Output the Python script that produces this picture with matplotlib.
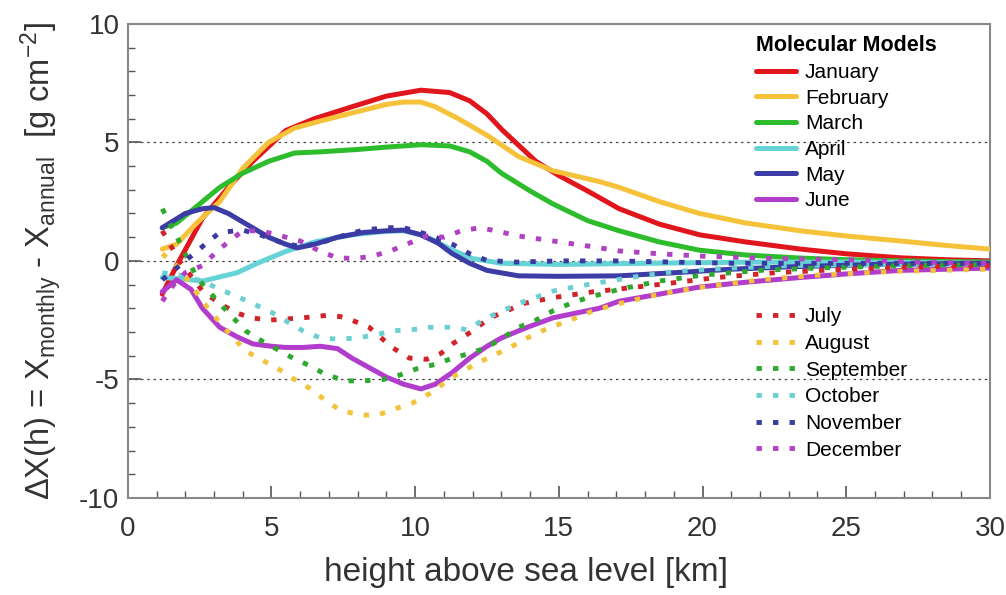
import numpy as np
import matplotlib
matplotlib.use('Agg')
import matplotlib.pyplot as plt
from matplotlib.ticker import MultipleLocator

plt.rcParams['font.family'] = ['Liberation Sans', 'DejaVu Sans']
plt.rcParams['mathtext.fontset'] = 'custom'
plt.rcParams['mathtext.rm'] = 'Liberation Sans'
plt.rcParams['mathtext.it'] = 'Liberation Sans:italic'
plt.rcParams['axes.unicode_minus'] = False

# height [km] / deviation [g cm^-2]
jan_h = [1.2, 1.7, 2.6, 3.5, 4.35, 5.5, 6.5, 7.8, 9.0, 10.2, 11.2, 11.9, 12.5, 13.05, 14.2, 15.0, 16.0, 17.1, 18.5, 19.9, 21.5, 23.4, 25, 26.9, 28.5, 30]
jan_x = [-1.4, -0.2, 1.8, 3.1, 4.2, 5.5, 6.0, 6.5, 6.95, 7.2, 7.1, 6.75, 6.2, 5.5, 4.2, 3.6, 2.95, 2.2, 1.55, 1.1, 0.8, 0.5, 0.3, 0.13, 0.05, 0.0]

feb_h = [1.2, 1.7, 2.4, 3.2, 4.0, 4.9, 5.8, 6.7, 8.0, 9.0, 9.6, 10.2, 10.7, 11.5, 12.5, 13.6, 14.8, 16.4, 17.1, 18.5, 19.9, 21.5, 23.4, 25, 26.9, 28.5, 30]
feb_x = [0.5, 0.7, 1.6, 2.5, 3.9, 5.0, 5.6, 5.9, 6.3, 6.6, 6.7, 6.7, 6.5, 6.0, 5.3, 4.4, 3.8, 3.35, 3.1, 2.5, 2.0, 1.6, 1.27, 1.05, 0.84, 0.65, 0.5]

mar_h = [1.2, 1.7, 2.4, 3.2, 4.0, 4.9, 5.8, 6.7, 8.0, 9.0, 10.2, 11.2, 11.9, 12.5, 13.0, 14.0, 14.8, 16.0, 17.1, 18.5, 19.9, 21.5, 23.4, 25, 27, 30]
mar_x = [1.4, 1.6, 2.3, 3.1, 3.7, 4.2, 4.55, 4.6, 4.7, 4.8, 4.9, 4.85, 4.6, 4.2, 3.7, 2.95, 2.4, 1.7, 1.27, 0.8, 0.45, 0.25, 0.12, 0.05, 0.0, -0.05]

apr_h = [1.2, 1.8, 2.6, 3.8, 4.6, 5.5, 6.5, 7.8, 9.0, 9.6, 10.2, 10.7, 11.3, 12.0, 13.0, 15, 18, 22, 26, 30]
apr_x = [-0.7, -0.75, -0.85, -0.5, -0.05, 0.4, 0.8, 1.1, 1.25, 1.27, 1.1, 0.84, 0.45, 0.1, -0.1, -0.15, -0.1, -0.05, -0.05, -0.1]

may_h = [1.2, 2.0, 2.6, 3.0, 3.5, 4.2, 4.9, 5.5, 5.9, 6.5, 7.3, 8.2, 9.0, 9.6, 10.2, 10.8, 11.3, 11.9, 12.5, 13.6, 15, 17.1, 19, 21, 23, 26, 30]
may_x = [1.4, 2.0, 2.2, 2.25, 2.0, 1.5, 1.0, 0.7, 0.55, 0.7, 1.0, 1.2, 1.27, 1.3, 1.1, 0.75, 0.3, -0.1, -0.4, -0.63, -0.65, -0.63, -0.5, -0.35, -0.25, -0.15, -0.1]

jun_h = [1.2, 1.7, 2.2, 2.6, 3.2, 3.8, 4.35, 5.0, 5.5, 6.1, 6.7, 7.3, 7.8, 8.4, 9.0, 9.6, 10.2, 10.7, 11.3, 11.9, 12.5, 13.0, 13.9, 14.8, 16.4, 17.1, 18.5, 19.9, 21.5, 23.4, 25, 26.9, 28.5, 30]
jun_x = [-1.3, -0.8, -1.2, -2.0, -2.8, -3.2, -3.5, -3.6, -3.65, -3.65, -3.6, -3.7, -4.1, -4.5, -4.9, -5.2, -5.4, -5.2, -4.7, -4.1, -3.6, -3.25, -2.8, -2.4, -2.0, -1.7, -1.4, -1.1, -0.9, -0.7, -0.55, -0.4, -0.35, -0.3]

jul_h = [1.2, 1.8, 2.6, 3.2, 3.8, 4.3, 4.9, 5.5, 6.1, 6.9, 7.4, 7.8, 8.4, 9.2, 9.8, 10.4, 10.9, 11.3, 12.0, 12.6, 13.2, 13.75, 14.8, 16.2, 17.0, 18.8, 20.5, 22.5, 25, 27.5, 30]
jul_x = [1.27, 0.0, -1.27, -1.8, -2.2, -2.4, -2.5, -2.45, -2.4, -2.3, -2.35, -2.5, -2.8, -3.65, -4.1, -4.15, -3.9, -3.5, -2.95, -2.4, -2.1, -1.8, -1.55, -1.3, -1.2, -0.95, -0.7, -0.5, -0.35, -0.25, -0.2]

aug_h = [1.2, 1.8, 2.6, 3.2, 4.1, 4.7, 5.3, 5.8, 6.3, 6.9, 7.4, 8.1, 8.7, 9.4, 9.9, 10.5, 11.3, 12.1, 12.7, 13.3, 13.9, 14.6, 15.4, 16.2, 17.1, 18.5, 20, 22, 24, 26.5, 30]
aug_x = [0.3, -0.3, -1.7, -2.6, -3.8, -4.2, -4.6, -5.0, -5.35, -5.9, -6.3, -6.5, -6.5, -6.2, -6.0, -5.6, -4.9, -4.35, -4.0, -3.65, -3.25, -2.85, -2.5, -2.1, -1.8, -1.4, -1.1, -0.8, -0.6, -0.45, -0.35]

sep_h = [1.2, 1.8, 2.4, 3.2, 4.1, 4.7, 5.75, 6.3, 6.9, 7.6, 8.2, 8.9, 9.5, 10.05, 10.75, 11.3, 11.9, 12.5, 13.05, 13.6, 14.2, 14.8, 15.4, 16.0, 17.1, 18.5, 20, 22, 24, 27, 30]
sep_x = [2.2, 0.8, -0.7, -1.8, -2.95, -3.4, -4.1, -4.4, -4.8, -5.06, -5.06, -5.0, -4.8, -4.55, -4.35, -4.1, -3.9, -3.65, -3.25, -2.8, -2.5, -2.1, -1.8, -1.55, -1.2, -0.85, -0.6, -0.4, -0.3, -0.2, -0.15]

oct_h = [1.2, 1.8, 2.6, 3.2, 3.8, 4.35, 5.05, 5.6, 6.1, 6.7, 7.3, 8.0, 8.7, 9.2, 9.9, 10.5, 11.2, 11.8, 12.5, 13.6, 14.8, 16.0, 17.5, 19, 21, 23, 26, 30]
oct_x = [-0.5, -0.6, -0.85, -1.2, -1.5, -1.8, -2.2, -2.6, -2.95, -3.25, -3.3, -3.25, -3.1, -2.95, -2.9, -2.8, -2.8, -2.9, -2.4, -1.8, -1.27, -1.0, -0.7, -0.45, -0.3, -0.2, -0.15, -0.1]

nov_h = [1.2, 1.8, 2.4, 2.75, 3.2, 4.0, 4.6, 5.3, 6.0, 6.7, 7.3, 8.2, 9.0, 9.6, 10.2, 10.8, 11.3, 11.9, 12.5, 13.5, 15, 17, 19, 21, 24, 27, 30]
nov_x = [-0.8, -0.2, 0.4, 0.76, 1.2, 1.3, 1.1, 0.8, 0.6, 0.75, 1.0, 1.3, 1.4, 1.4, 1.2, 0.95, 0.7, 0.3, 0.02, -0.05, 0.0, 0.0, -0.05, -0.1, -0.1, -0.1, -0.1]

dec_h = [1.2, 1.6, 2.0, 2.6, 3.1, 3.6, 4.0, 4.6, 5.2, 6.0, 6.7, 7.3, 7.9, 8.5, 9.1, 9.7, 10.4, 11.0, 11.6, 12.25, 12.8, 13.6, 14.8, 16.0, 17.1, 18.5, 20, 22.5, 25, 27.5, 30]
dec_x = [-1.7, -1.0, -0.5, -0.2, 0.4, 0.9, 1.27, 1.27, 1.1, 0.84, 0.4, 0.13, 0.1, 0.2, 0.4, 0.7, 1.05, 1.0, 1.27, 1.4, 1.27, 1.05, 0.84, 0.63, 0.42, 0.3, 0.2, 0.1, 0.05, -0.05, -0.1]

solid = [['January', jan_h, jan_x, '#e0161c'],
         ['February', feb_h, feb_x, '#f5c23a'],
         ['March', mar_h, mar_x, '#2cbc2c'],
         ['April', apr_h, apr_x, '#66d4d6'],
         ['May', may_h, may_x, '#3c3ca6'],
         ['June', jun_h, jun_x, '#b23ccc']]
dotted = [['July', jul_h, jul_x, '#d0242a'],
          ['August', aug_h, aug_x, '#f2c23a'],
          ['September', sep_h, sep_x, '#2ea82e'],
          ['October', oct_h, oct_x, '#6ccfd2'],
          ['November', nov_h, nov_x, '#3a3aa0'],
          ['December', dec_h, dec_x, '#b040c4']]

fig = plt.figure(figsize=(10.06, 5.95), dpi=100)
ax = fig.add_axes([0.127, 0.163, 0.857, 0.797])

h_sol = []
for name, h, x, c in solid:
    l, = ax.plot(h, x, color=c, lw=3.6, solid_capstyle='round', label=name, zorder=3)
    h_sol.append(l)
h_dot = []
for name, h, x, c in dotted:
    l, = ax.plot(h, x, color=c, lw=3.5, ls=(0, (1.1, 2.3)), dash_capstyle='butt', label=name, zorder=3)
    h_dot.append(l)

ax.set_xlim(0, 30)
ax.set_ylim(-10, 10)
ax.xaxis.set_major_locator(MultipleLocator(5))
ax.xaxis.set_minor_locator(MultipleLocator(1))
ax.yaxis.set_major_locator(MultipleLocator(5))
ax.yaxis.set_minor_locator(MultipleLocator(1))
ax.tick_params(which='both', direction='in', colors='#555555', labelcolor='#333333')
ax.tick_params(which='major', length=9, width=1.2, labelsize=20)
ax.tick_params(axis='x', which='major', pad=13)
ax.tick_params(axis='y', which='major', pad=6)
ax.tick_params(which='minor', length=5, width=1.0)
for s in ax.spines.values():
    s.set_color('#888888')
    s.set_linewidth(1.5)

for yv in [-5, 0, 5]:
    ax.axhline(yv, color='#444444', lw=0.9, ls=(0, (2, 3)), zorder=1)

ax.set_xlabel('height above sea level [km]', fontsize=24, color='#333333')
ax.xaxis.set_label_coords(0.462, -0.125)
ax.set_ylabel(r'$\Delta$X(h) = X$_{\mathrm{monthly}}$ - X$_{\mathrm{annual}}$  [g cm$^{-2}$]',
              fontsize=23.5, color='#333333', labelpad=11)

leg1 = ax.legend(handles=h_sol, title='Molecular Models', loc='upper left',
                 bbox_to_anchor=(0.719, 0.993), frameon=False, fontsize=15,
                 handlelength=1.9, handletextpad=0.45, labelspacing=0.32,
                 alignment='left', borderaxespad=0)
leg1.get_title().set_fontweight('bold')
leg1.get_title().set_fontsize(15.5)
ax.add_artist(leg1)
ax.legend(handles=h_dot, loc='upper left', bbox_to_anchor=(0.719, 0.42),
          frameon=False, fontsize=15, handlelength=1.9, handletextpad=0.45,
          labelspacing=0.37, borderaxespad=0)

plt.savefig('out.png', dpi=100)
